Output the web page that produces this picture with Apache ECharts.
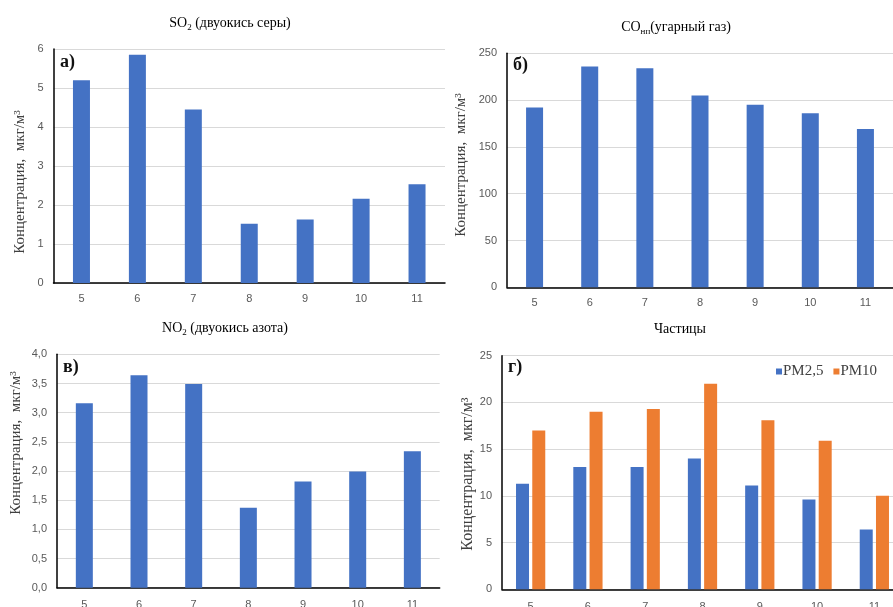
<!DOCTYPE html>
<html>
<head>
<meta charset="utf-8">
<script src="https://cdn.jsdelivr.net/npm/echarts@6/dist/echarts.min.js"></script>
<style>
  html, body { margin: 0; padding: 0; background: #fff; }
  #chart { width: 893px; height: 607px; }
</style>
</head>
<body>
<div id="chart"></div>
<script>
  // months on the x axis
  const months = ['5', '6', '7', '8', '9', '10', '11'];
  // concentrations, mkg/m3
  const so2 = [5.2, 5.85, 4.45, 1.52, 1.63, 2.16, 2.53];
  const co = [192, 236, 234, 205, 195, 186, 169];
  const no2 = [3.16, 3.64, 3.49, 1.37, 1.82, 1.99, 2.34];
  const pm25 = [11.3, 13.1, 13.1, 14.0, 11.1, 9.6, 6.4];
  const pm10 = [17.0, 19.0, 19.3, 22.0, 18.1, 15.9, 10.0];
  const pmNames = ['PM2,5', 'PM10'];

  const blue = '#4472C4';
  const orange = '#ED7D31';
  const serif = '"Liberation Serif", "DejaVu Serif", serif';
  const sans = '"Liberation Sans", Roboto, sans-serif';
  const yName = 'Концентрация,  мкг/м³';

  const chart = echarts.init(document.getElementById('chart'));

  function xAx(i, gap) {
    return {
      type: 'category',
      gridIndex: i,
      data: months,
      axisLine: { lineStyle: { color: '#000', width: 1.5 } },
      axisTick: { show: false },
      axisLabel: { color: '#595959', fontFamily: sans, fontSize: 11, margin: gap }
    };
  }
  function yAx(i, max, step, fmt) {
    return {
      type: 'value',
      gridIndex: i,
      min: 0,
      max: max,
      interval: step,
      axisLine: { show: true, lineStyle: { color: '#000', width: 1.5 } },
      axisTick: { show: false },
      splitLine: { lineStyle: { color: '#d9d9d9' } },
      axisLabel: { color: '#595959', fontFamily: sans, fontSize: 11, margin: 10, formatter: fmt }
    };
  }

  // title with a subscript part
  function titleText(x, y, main, sub, rest) {
    return {
      type: 'text',
      x: x, y: y,
      style: {
        text: '{m|' + main + '}' + (sub ? '{s|' + sub + '}' : '') + '{m|' + rest + '}',
        align: 'center',
        verticalAlign: 'middle',
        rich: {
          m: { fontFamily: serif, fontSize: 14, color: '#262626', lineHeight: 18 },
          s: { fontFamily: serif, fontSize: 9, color: '#262626', lineHeight: 9, verticalAlign: 'bottom' }
        }
      }
    };
  }
  function letter(x, y, t) {
    return {
      type: 'text', x: x, y: y,
      style: { text: t, fontFamily: serif, fontSize: 18, fontWeight: 'bold', fill: '#111', verticalAlign: 'middle' }
    };
  }
  function yLabel(x, y, size) {
    return {
      type: 'text', x: x, y: y, rotation: Math.PI / 2,
      style: { text: yName, fontFamily: serif, fontSize: size, fill: '#404040', align: 'center', verticalAlign: 'middle' }
    };
  }

  const option = {
    animation: false,
    grid: [
      { left: 53.5, top: 49, width: 391.5, height: 234, outerBoundsMode: 'none' },
      { left: 507, top: 53.3, width: 386, height: 234, outerBoundsMode: 'none' },
      { left: 57, top: 354.3, width: 382.7, height: 233.4, outerBoundsMode: 'none' },
      { left: 502, top: 355.7, width: 401, height: 233.6, outerBoundsMode: 'none' }
    ],
    xAxis: [xAx(0, 10), xAx(1, 10), xAx(2, 12), xAx(3, 12)],
    yAxis: [
      yAx(0, 6, 1),
      yAx(1, 250, 50),
      yAx(2, 4, 0.5, v => v.toFixed(1).replace('.', ',')),
      yAx(3, 25, 5)
    ],
    legend: {
      data: pmNames,
      left: 776,
      top: 364,
      padding: 0,
      icon: 'rect',
      itemWidth: 6,
      itemHeight: 6,
      itemGap: 10,
      textStyle: { fontFamily: serif, fontSize: 15, color: '#404040', padding: [0, 0, 0, -4] }
    },
    series: [
      { type: 'bar', xAxisIndex: 0, yAxisIndex: 0, data: so2, barWidth: 17, itemStyle: { color: blue } },
      { type: 'bar', xAxisIndex: 1, yAxisIndex: 1, data: co, barWidth: 17, itemStyle: { color: blue } },
      { type: 'bar', xAxisIndex: 2, yAxisIndex: 2, data: no2, barWidth: 17, itemStyle: { color: blue } },
      { name: pmNames[0], type: 'bar', xAxisIndex: 3, yAxisIndex: 3, data: pm25, barWidth: 13, barGap: '25%', itemStyle: { color: blue } },
      { name: pmNames[1], type: 'bar', xAxisIndex: 3, yAxisIndex: 3, data: pm10, barWidth: 13, barGap: '25%', itemStyle: { color: orange } }
    ],
    graphic: [
      titleText(230, 23, 'SO', '2', ' (двуокись серы)'),
      titleText(676, 27, 'CO', 'нп', '(угарный газ)'),
      titleText(225, 328, 'NO', '2', ' (двуокись азота)'),
      titleText(680, 329, 'Частицы', '', ''),
      letter(60, 62, 'а)'),
      letter(513, 65, 'б)'),
      letter(63, 367, 'в)'),
      letter(508, 367, 'г)'),
      yLabel(20, 182, 15),
      yLabel(461, 165, 15),
      yLabel(16, 443, 15),
      yLabel(468, 474, 16)
    ]
  };

  chart.setOption(option);
</script>
</body>
</html>
